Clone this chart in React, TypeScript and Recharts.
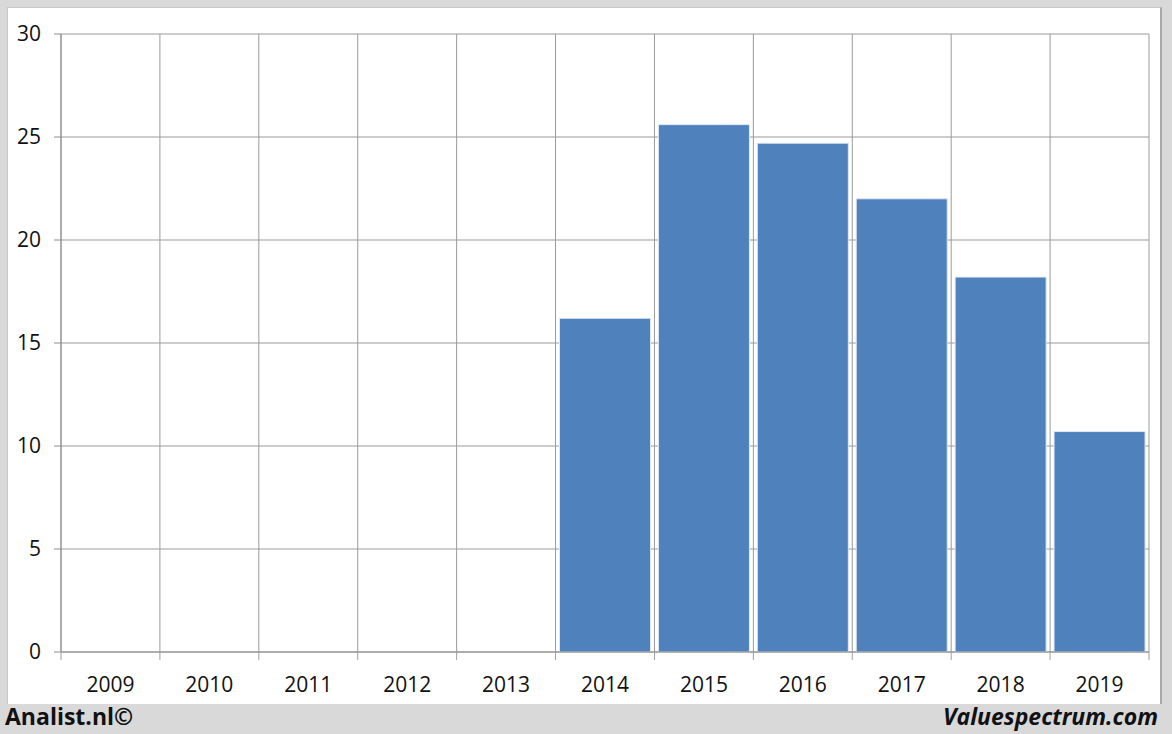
import React from "react";
import {
  BarChart,
  Bar,
  XAxis,
  YAxis,
  CartesianGrid,
} from "recharts";

const years = ["2009", "2010", "2011", "2012", "2013", "2014", "2015", "2016", "2017", "2018", "2019"];
const values = [null, null, null, null, null, 16.2, 25.6, 24.7, 22.0, 18.2, 10.7];
const yTicks = [0, 5, 10, 15, 20, 25, 30];
// category boundaries, used for the vertical grid lines
const boundaries = [0, 1, 2, 3, 4, 5, 6, 7, 8, 9, 10, 11];

const data = years.map((year, i) => ({ year, value: values[i] }));

const FONT = "'Open Sans', 'Liberation Sans', sans-serif";
const LABEL_GAP = 25;
const MARK = 8;

// year label plus the small tick mark at the category edge (Excel style)
function YearTick(props: any) {
  const { x, y, payload, index, width, visibleTicksCount } = props;
  const band = width / visibleTicksCount;
  const axisY = y - LABEL_GAP;
  const left = x - band / 2;
  const right = x + band / 2;
  return (
    <g>
      <line x1={left} x2={left} y1={axisY} y2={axisY + MARK} stroke="#a0a0a0" />
      {index === visibleTicksCount - 1 && (
        <line x1={right} x2={right} y1={axisY} y2={axisY + MARK} stroke="#a0a0a0" />
      )}
      <text
        x={x}
        y={y}
        dy="0.71em"
        textAnchor="middle"
        fill="#111"
        fontSize={21}
        fontFamily={FONT}
      >
        {payload.value}
      </text>
    </g>
  );
}

export default function App() {
  return (
    <div
      style={{
        position: "absolute",
        left: 0,
        top: 0,
        width: 1172,
        height: 734,
        background: "#d9d9d9",
        fontFamily: FONT,
      }}
    >
      <div
        style={{
          position: "absolute",
          left: 7,
          top: 7,
          width: 1152,
          height: 696,
          background: "#ffffff",
          borderLeft: "1px solid #c8c8c8",
          borderTop: "1px solid #c8c8c8",
          borderRight: "2px solid #a8a8a8",
        }}
      >
        <BarChart
          width={1151}
          height={695}
          data={data}
          margin={{ top: 26, right: 10, left: 0, bottom: 0 }}
          barCategoryGap="4%"
        >
          <CartesianGrid
            stroke="#9a9a9a"
            verticalCoordinatesGenerator={({ offset }: any) =>
              boundaries.map((b) => offset.left + (b * offset.width) / years.length)
            }
          />
          <XAxis
            dataKey="year"
            interval={0}
            height={51}
            tickSize={0}
            tickMargin={LABEL_GAP}
            tickLine={false}
            axisLine={{ stroke: "#8c8c8c" }}
            tick={<YearTick />}
          />
          <YAxis
            domain={[0, 30]}
            ticks={yTicks}
            interval={0}
            width={53}
            tickSize={7}
            tickMargin={13}
            tickLine={{ stroke: "#8c8c8c" }}
            axisLine={{ stroke: "#8c8c8c" }}
            tick={{ fill: "#111", fontSize: 21, fontFamily: FONT }}
          />
          <Bar
            dataKey="value"
            fill="#4f81bd"
            stroke="#dfe7f2"
            strokeWidth={1}
            isAnimationActive={false}
          />
        </BarChart>
      </div>
      <div
        style={{
          position: "absolute",
          left: 5,
          top: 700,
          fontSize: 23,
          fontWeight: 700,
          color: "#111",
          fontFamily: FONT,
        }}
      >
        Analist.nl©
      </div>
      <div
        style={{
          position: "absolute",
          right: 14,
          top: 700,
          fontSize: 23,
          fontWeight: 700,
          fontStyle: "italic",
          color: "#111",
          fontFamily: FONT,
        }}
      >
        Valuespectrum.com
      </div>
    </div>
  );
}
